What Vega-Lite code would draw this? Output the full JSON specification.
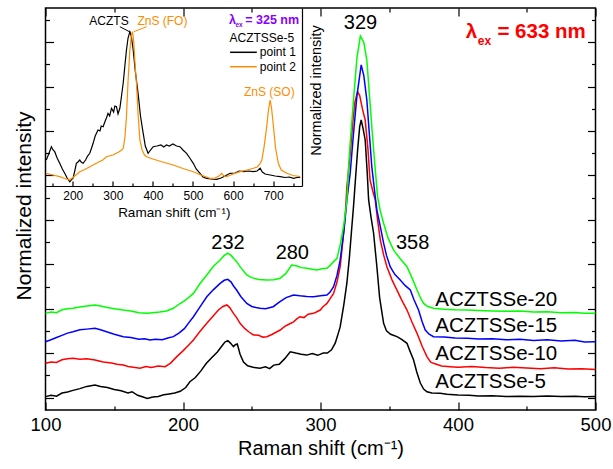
{
"$schema":"https://vega.github.io/schema/vega-lite/v6.json",
"width":550,"height":402,
"autosize":{"type":"none"},
"padding":{"left":45.5,"top":8,"right":17.5,"bottom":59},
"background":"white",
"config":{
 "view":{"stroke":"black","strokeWidth":1.5},
 "axis":{"grid":false,"domain":false,"labelFlush":false,"tickColor":"black","tickWidth":1.2,"labelColor":"black","titleColor":"black","labelFont":"Liberation Sans","titleFont":"Liberation Sans","titleFontWeight":"normal"},
 "text":{"font":"Liberation Sans"}
},
"datasets":{
 "frame":[{"shift":100,"intensity":0}],
 "main":[
{"sample":"ACZTSSe-5","shift":100,"intensity":0.04},{"sample":"ACZTSSe-5","shift":104,"intensity":0.1},{"sample":"ACZTSSe-5","shift":108,"intensity":0.06},{"sample":"ACZTSSe-5","shift":112,"intensity":0.2},{"sample":"ACZTSSe-5","shift":116,"intensity":0.25},{"sample":"ACZTSSe-5","shift":120,"intensity":0.32},{"sample":"ACZTSSe-5","shift":125,"intensity":0.4},{"sample":"ACZTSSe-5","shift":130,"intensity":0.5},{"sample":"ACZTSSe-5","shift":136,"intensity":0.56},{"sample":"ACZTSSe-5","shift":140,"intensity":0.5},{"sample":"ACZTSSe-5","shift":145,"intensity":0.45},{"sample":"ACZTSSe-5","shift":150,"intensity":0.36},{"sample":"ACZTSSe-5","shift":155,"intensity":0.3},{"sample":"ACZTSSe-5","shift":160,"intensity":0.2},{"sample":"ACZTSSe-5","shift":163,"intensity":0.26},{"sample":"ACZTSSe-5","shift":167,"intensity":0.1},{"sample":"ACZTSSe-5","shift":171,"intensity":0.02},{"sample":"ACZTSSe-5","shift":174,"intensity":-0.04},{"sample":"ACZTSSe-5","shift":178,"intensity":0.02},{"sample":"ACZTSSe-5","shift":182,"intensity":0.05},{"sample":"ACZTSSe-5","shift":186,"intensity":0.12},{"sample":"ACZTSSe-5","shift":190,"intensity":0.16},{"sample":"ACZTSSe-5","shift":194,"intensity":0.2},{"sample":"ACZTSSe-5","shift":198,"intensity":0.28},{"sample":"ACZTSSe-5","shift":202,"intensity":0.45},{"sample":"ACZTSSe-5","shift":205,"intensity":0.71},{"sample":"ACZTSSe-5","shift":209,"intensity":0.9},{"sample":"ACZTSSe-5","shift":213,"intensity":1.2},{"sample":"ACZTSSe-5","shift":217,"intensity":1.54},{"sample":"ACZTSSe-5","shift":221,"intensity":1.8},{"sample":"ACZTSSe-5","shift":225,"intensity":2.05},{"sample":"ACZTSSe-5","shift":228,"intensity":2.3},{"sample":"ACZTSSe-5","shift":230.5,"intensity":2.5},{"sample":"ACZTSSe-5","shift":232.6,"intensity":2.56},{"sample":"ACZTSSe-5","shift":234.5,"intensity":2.45},{"sample":"ACZTSSe-5","shift":236.7,"intensity":2.29},{"sample":"ACZTSSe-5","shift":238,"intensity":2.38},{"sample":"ACZTSSe-5","shift":239.5,"intensity":2.41},{"sample":"ACZTSSe-5","shift":241.5,"intensity":1.95},{"sample":"ACZTSSe-5","shift":244,"intensity":1.6},{"sample":"ACZTSSe-5","shift":247,"intensity":1.43},{"sample":"ACZTSSe-5","shift":251,"intensity":1.36},{"sample":"ACZTSSe-5","shift":256,"intensity":1.32},{"sample":"ACZTSSe-5","shift":260,"intensity":1.38},{"sample":"ACZTSSe-5","shift":263,"intensity":1.3},{"sample":"ACZTSSe-5","shift":266,"intensity":1.46},{"sample":"ACZTSSe-5","shift":270,"intensity":1.5},{"sample":"ACZTSSe-5","shift":274,"intensity":1.75},{"sample":"ACZTSSe-5","shift":278,"intensity":2.06},{"sample":"ACZTSSe-5","shift":282,"intensity":2.0},{"sample":"ACZTSSe-5","shift":286,"intensity":1.95},{"sample":"ACZTSSe-5","shift":290,"intensity":1.91},{"sample":"ACZTSSe-5","shift":294,"intensity":1.98},{"sample":"ACZTSSe-5","shift":298,"intensity":1.9},{"sample":"ACZTSSe-5","shift":302,"intensity":2.0},{"sample":"ACZTSSe-5","shift":305,"intensity":2.0},{"sample":"ACZTSSe-5","shift":308,"intensity":2.15},{"sample":"ACZTSSe-5","shift":310.7,"intensity":2.45},{"sample":"ACZTSSe-5","shift":312.5,"intensity":2.8},{"sample":"ACZTSSe-5","shift":314.3,"intensity":3.18},{"sample":"ACZTSSe-5","shift":317,"intensity":4.2},{"sample":"ACZTSSe-5","shift":319.2,"intensity":5.16},{"sample":"ACZTSSe-5","shift":321,"intensity":6.3},{"sample":"ACZTSSe-5","shift":322.8,"intensity":7.69},{"sample":"ACZTSSe-5","shift":324,"intensity":8.6},{"sample":"ACZTSSe-5","shift":325.5,"intensity":9.9},{"sample":"ACZTSSe-5","shift":327,"intensity":11.15},{"sample":"ACZTSSe-5","shift":328.5,"intensity":12.2},{"sample":"ACZTSSe-5","shift":329.6,"intensity":12.5},{"sample":"ACZTSSe-5","shift":331,"intensity":12.1},{"sample":"ACZTSSe-5","shift":332.5,"intensity":11.6},{"sample":"ACZTSSe-5","shift":334,"intensity":10.1},{"sample":"ACZTSSe-5","shift":335,"intensity":8.9},{"sample":"ACZTSSe-5","shift":336.8,"intensity":8.1},{"sample":"ACZTSSe-5","shift":338.6,"intensity":7.41},{"sample":"ACZTSSe-5","shift":341,"intensity":5.89},{"sample":"ACZTSSe-5","shift":343,"intensity":4.5},{"sample":"ACZTSSe-5","shift":345.9,"intensity":3.34},{"sample":"ACZTSSe-5","shift":348,"intensity":3.0},{"sample":"ACZTSSe-5","shift":351,"intensity":2.85},{"sample":"ACZTSSe-5","shift":355.6,"intensity":2.74},{"sample":"ACZTSSe-5","shift":359,"intensity":2.62},{"sample":"ACZTSSe-5","shift":362.9,"intensity":2.44},{"sample":"ACZTSSe-5","shift":365,"intensity":2.1},{"sample":"ACZTSSe-5","shift":367.7,"intensity":1.69},{"sample":"ACZTSSe-5","shift":370,"intensity":1.15},{"sample":"ACZTSSe-5","shift":372.6,"intensity":0.65},{"sample":"ACZTSSe-5","shift":375,"intensity":0.38},{"sample":"ACZTSSe-5","shift":377.4,"intensity":0.26},{"sample":"ACZTSSe-5","shift":381,"intensity":0.2},{"sample":"ACZTSSe-5","shift":387,"intensity":0.19},{"sample":"ACZTSSe-5","shift":392,"intensity":0.15},{"sample":"ACZTSSe-5","shift":400,"intensity":0.11},{"sample":"ACZTSSe-5","shift":408,"intensity":0.1},{"sample":"ACZTSSe-5","shift":415,"intensity":0.07},{"sample":"ACZTSSe-5","shift":425,"intensity":0.08},{"sample":"ACZTSSe-5","shift":435,"intensity":0.04},{"sample":"ACZTSSe-5","shift":445,"intensity":0.06},{"sample":"ACZTSSe-5","shift":455,"intensity":0.04},{"sample":"ACZTSSe-5","shift":465,"intensity":0.07},{"sample":"ACZTSSe-5","shift":475,"intensity":0.04},{"sample":"ACZTSSe-5","shift":485,"intensity":0.06},{"sample":"ACZTSSe-5","shift":492,"intensity":0.03},{"sample":"ACZTSSe-5","shift":500,"intensity":0.04},
{"sample":"ACZTSSe-10","shift":100,"intensity":1.54},{"sample":"ACZTSSe-10","shift":104,"intensity":1.6},{"sample":"ACZTSSe-10","shift":108,"intensity":1.58},{"sample":"ACZTSSe-10","shift":112,"intensity":1.7},{"sample":"ACZTSSe-10","shift":116,"intensity":1.75},{"sample":"ACZTSSe-10","shift":120,"intensity":1.77},{"sample":"ACZTSSe-10","shift":125,"intensity":1.72},{"sample":"ACZTSSe-10","shift":130,"intensity":1.75},{"sample":"ACZTSSe-10","shift":136,"intensity":1.69},{"sample":"ACZTSSe-10","shift":142,"intensity":1.6},{"sample":"ACZTSSe-10","shift":148,"intensity":1.55},{"sample":"ACZTSSe-10","shift":152,"intensity":1.5},{"sample":"ACZTSSe-10","shift":156.6,"intensity":1.46},{"sample":"ACZTSSe-10","shift":160,"intensity":1.4},{"sample":"ACZTSSe-10","shift":164,"intensity":1.36},{"sample":"ACZTSSe-10","shift":168.8,"intensity":1.32},{"sample":"ACZTSSe-10","shift":173,"intensity":1.4},{"sample":"ACZTSSe-10","shift":177,"intensity":1.35},{"sample":"ACZTSSe-10","shift":182,"intensity":1.42},{"sample":"ACZTSSe-10","shift":187,"intensity":1.39},{"sample":"ACZTSSe-10","shift":191,"intensity":1.55},{"sample":"ACZTSSe-10","shift":195.5,"intensity":1.84},{"sample":"ACZTSSe-10","shift":200,"intensity":2.1},{"sample":"ACZTSSe-10","shift":204,"intensity":2.35},{"sample":"ACZTSSe-10","shift":207.6,"intensity":2.59},{"sample":"ACZTSSe-10","shift":212,"intensity":2.95},{"sample":"ACZTSSe-10","shift":217.3,"intensity":3.34},{"sample":"ACZTSSe-10","shift":221,"intensity":3.6},{"sample":"ACZTSSe-10","shift":225.8,"intensity":3.94},{"sample":"ACZTSSe-10","shift":229,"intensity":4.1},{"sample":"ACZTSSe-10","shift":231.9,"intensity":4.17},{"sample":"ACZTSSe-10","shift":234,"intensity":4.05},{"sample":"ACZTSSe-10","shift":236.7,"intensity":3.79},{"sample":"ACZTSSe-10","shift":239,"intensity":3.6},{"sample":"ACZTSSe-10","shift":241.5,"intensity":3.34},{"sample":"ACZTSSe-10","shift":245,"intensity":3.1},{"sample":"ACZTSSe-10","shift":248,"intensity":2.95},{"sample":"ACZTSSe-10","shift":251.2,"intensity":2.82},{"sample":"ACZTSSe-10","shift":255,"intensity":2.8},{"sample":"ACZTSSe-10","shift":258,"intensity":2.72},{"sample":"ACZTSSe-10","shift":261,"intensity":2.74},{"sample":"ACZTSSe-10","shift":265,"intensity":2.85},{"sample":"ACZTSSe-10","shift":268,"intensity":2.95},{"sample":"ACZTSSe-10","shift":270.7,"intensity":3.04},{"sample":"ACZTSSe-10","shift":274,"intensity":3.2},{"sample":"ACZTSSe-10","shift":277,"intensity":3.3},{"sample":"ACZTSSe-10","shift":280.4,"intensity":3.41},{"sample":"ACZTSSe-10","shift":283,"intensity":3.55},{"sample":"ACZTSSe-10","shift":285,"intensity":3.64},{"sample":"ACZTSSe-10","shift":288,"intensity":3.6},{"sample":"ACZTSSe-10","shift":291,"intensity":3.75},{"sample":"ACZTSSe-10","shift":294.9,"intensity":3.79},{"sample":"ACZTSSe-10","shift":297,"intensity":3.85},{"sample":"ACZTSSe-10","shift":299.8,"intensity":3.94},{"sample":"ACZTSSe-10","shift":302,"intensity":4.1},{"sample":"ACZTSSe-10","shift":304.7,"intensity":4.24},{"sample":"ACZTSSe-10","shift":307,"intensity":4.45},{"sample":"ACZTSSe-10","shift":309.5,"intensity":4.69},{"sample":"ACZTSSe-10","shift":312,"intensity":5.2},{"sample":"ACZTSSe-10","shift":314.3,"intensity":5.89},{"sample":"ACZTSSe-10","shift":316,"intensity":6.9},{"sample":"ACZTSSe-10","shift":318,"intensity":8.14},{"sample":"ACZTSSe-10","shift":319.2,"intensity":9.5},{"sample":"ACZTSSe-10","shift":320.5,"intensity":10.3},{"sample":"ACZTSSe-10","shift":321.6,"intensity":11.0},{"sample":"ACZTSSe-10","shift":323.5,"intensity":12.4},{"sample":"ACZTSSe-10","shift":325,"intensity":13.3},{"sample":"ACZTSSe-10","shift":327,"intensity":13.77},{"sample":"ACZTSSe-10","shift":328.5,"intensity":13.6},{"sample":"ACZTSSe-10","shift":330.5,"intensity":13.0},{"sample":"ACZTSSe-10","shift":332.5,"intensity":12.5},{"sample":"ACZTSSe-10","shift":334.5,"intensity":11.2},{"sample":"ACZTSSe-10","shift":336,"intensity":9.8},{"sample":"ACZTSSe-10","shift":338,"intensity":9.3},{"sample":"ACZTSSe-10","shift":339.8,"intensity":8.9},{"sample":"ACZTSSe-10","shift":341.5,"intensity":8.0},{"sample":"ACZTSSe-10","shift":343.5,"intensity":7.09},{"sample":"ACZTSSe-10","shift":346,"intensity":6.4},{"sample":"ACZTSSe-10","shift":348.3,"intensity":5.89},{"sample":"ACZTSSe-10","shift":352,"intensity":5.3},{"sample":"ACZTSSe-10","shift":355.6,"intensity":4.84},{"sample":"ACZTSSe-10","shift":359,"intensity":4.4},{"sample":"ACZTSSe-10","shift":362.9,"intensity":3.94},{"sample":"ACZTSSe-10","shift":366.5,"intensity":3.4},{"sample":"ACZTSSe-10","shift":370.2,"intensity":2.89},{"sample":"ACZTSSe-10","shift":374,"intensity":2.3},{"sample":"ACZTSSe-10","shift":377.4,"intensity":1.84},{"sample":"ACZTSSe-10","shift":380,"intensity":1.6},{"sample":"ACZTSSe-10","shift":382.2,"intensity":1.54},{"sample":"ACZTSSe-10","shift":388,"intensity":1.42},{"sample":"ACZTSSe-10","shift":394.4,"intensity":1.39},{"sample":"ACZTSSe-10","shift":400,"intensity":1.36},{"sample":"ACZTSSe-10","shift":410,"intensity":1.4},{"sample":"ACZTSSe-10","shift":420,"intensity":1.35},{"sample":"ACZTSSe-10","shift":430,"intensity":1.32},{"sample":"ACZTSSe-10","shift":440,"intensity":1.36},{"sample":"ACZTSSe-10","shift":450,"intensity":1.33},{"sample":"ACZTSSe-10","shift":460,"intensity":1.3},{"sample":"ACZTSSe-10","shift":470,"intensity":1.34},{"sample":"ACZTSSe-10","shift":480,"intensity":1.28},{"sample":"ACZTSSe-10","shift":490,"intensity":1.3},{"sample":"ACZTSSe-10","shift":500,"intensity":1.26},
{"sample":"ACZTSSe-15","shift":100,"intensity":2.51},{"sample":"ACZTSSe-15","shift":104,"intensity":2.6},{"sample":"ACZTSSe-15","shift":108,"intensity":2.7},{"sample":"ACZTSSe-15","shift":112,"intensity":2.8},{"sample":"ACZTSSe-15","shift":116,"intensity":2.9},{"sample":"ACZTSSe-15","shift":120,"intensity":2.96},{"sample":"ACZTSSe-15","shift":125,"intensity":3.05},{"sample":"ACZTSSe-15","shift":130,"intensity":3.08},{"sample":"ACZTSSe-15","shift":136,"intensity":3.12},{"sample":"ACZTSSe-15","shift":140,"intensity":3.05},{"sample":"ACZTSSe-15","shift":145,"intensity":2.95},{"sample":"ACZTSSe-15","shift":150,"intensity":2.85},{"sample":"ACZTSSe-15","shift":156.6,"intensity":2.74},{"sample":"ACZTSSe-15","shift":162,"intensity":2.7},{"sample":"ACZTSSe-15","shift":168,"intensity":2.62},{"sample":"ACZTSSe-15","shift":172,"intensity":2.65},{"sample":"ACZTSSe-15","shift":176,"intensity":2.59},{"sample":"ACZTSSe-15","shift":180,"intensity":2.62},{"sample":"ACZTSSe-15","shift":185,"intensity":2.6},{"sample":"ACZTSSe-15","shift":189,"intensity":2.68},{"sample":"ACZTSSe-15","shift":193,"intensity":2.74},{"sample":"ACZTSSe-15","shift":197,"intensity":2.9},{"sample":"ACZTSSe-15","shift":201,"intensity":3.1},{"sample":"ACZTSSe-15","shift":204,"intensity":3.35},{"sample":"ACZTSSe-15","shift":207.6,"intensity":3.64},{"sample":"ACZTSSe-15","shift":212,"intensity":4.05},{"sample":"ACZTSSe-15","shift":217.3,"intensity":4.54},{"sample":"ACZTSSe-15","shift":222,"intensity":4.85},{"sample":"ACZTSSe-15","shift":227,"intensity":5.14},{"sample":"ACZTSSe-15","shift":230,"intensity":5.28},{"sample":"ACZTSSe-15","shift":232.6,"intensity":5.32},{"sample":"ACZTSSe-15","shift":235,"intensity":5.2},{"sample":"ACZTSSe-15","shift":237,"intensity":5.0},{"sample":"ACZTSSe-15","shift":239,"intensity":4.84},{"sample":"ACZTSSe-15","shift":242,"intensity":4.55},{"sample":"ACZTSSe-15","shift":246.4,"intensity":4.24},{"sample":"ACZTSSe-15","shift":250,"intensity":4.1},{"sample":"ACZTSSe-15","shift":253,"intensity":4.05},{"sample":"ACZTSSe-15","shift":256,"intensity":4.02},{"sample":"ACZTSSe-15","shift":260,"intensity":4.0},{"sample":"ACZTSSe-15","shift":265.6,"intensity":4.09},{"sample":"ACZTSSe-15","shift":270,"intensity":4.3},{"sample":"ACZTSSe-15","shift":275,"intensity":4.5},{"sample":"ACZTSSe-15","shift":280.4,"intensity":4.62},{"sample":"ACZTSSe-15","shift":285,"intensity":4.58},{"sample":"ACZTSSe-15","shift":290,"intensity":4.55},{"sample":"ACZTSSe-15","shift":294.9,"intensity":4.54},{"sample":"ACZTSSe-15","shift":300,"intensity":4.58},{"sample":"ACZTSSe-15","shift":304.7,"intensity":4.62},{"sample":"ACZTSSe-15","shift":307,"intensity":4.75},{"sample":"ACZTSSe-15","shift":309.5,"intensity":4.99},{"sample":"ACZTSSe-15","shift":312,"intensity":5.5},{"sample":"ACZTSSe-15","shift":314.3,"intensity":6.19},{"sample":"ACZTSSe-15","shift":317,"intensity":7.5},{"sample":"ACZTSSe-15","shift":319.2,"intensity":8.9},{"sample":"ACZTSSe-15","shift":321.6,"intensity":10.1},{"sample":"ACZTSSe-15","shift":324,"intensity":11.9},{"sample":"ACZTSSe-15","shift":326.5,"intensity":13.6},{"sample":"ACZTSSe-15","shift":329.6,"intensity":14.98},{"sample":"ACZTSSe-15","shift":331.5,"intensity":14.5},{"sample":"ACZTSSe-15","shift":333.7,"intensity":13.4},{"sample":"ACZTSSe-15","shift":335.5,"intensity":11.9},{"sample":"ACZTSSe-15","shift":337.3,"intensity":10.4},{"sample":"ACZTSSe-15","shift":339.8,"intensity":9.05},{"sample":"ACZTSSe-15","shift":341,"intensity":8.45},{"sample":"ACZTSSe-15","shift":343.5,"intensity":7.7},{"sample":"ACZTSSe-15","shift":345.9,"intensity":6.95},{"sample":"ACZTSSe-15","shift":348,"intensity":6.4},{"sample":"ACZTSSe-15","shift":350.7,"intensity":5.89},{"sample":"ACZTSSe-15","shift":354,"intensity":5.55},{"sample":"ACZTSSe-15","shift":358,"intensity":5.29},{"sample":"ACZTSSe-15","shift":361.5,"intensity":5.05},{"sample":"ACZTSSe-15","shift":365.3,"intensity":4.84},{"sample":"ACZTSSe-15","shift":368,"intensity":4.4},{"sample":"ACZTSSe-15","shift":371.3,"intensity":3.94},{"sample":"ACZTSSe-15","shift":374,"intensity":3.4},{"sample":"ACZTSSe-15","shift":376.2,"intensity":3.04},{"sample":"ACZTSSe-15","shift":379,"intensity":2.85},{"sample":"ACZTSSe-15","shift":382.2,"intensity":2.74},{"sample":"ACZTSSe-15","shift":390,"intensity":2.72},{"sample":"ACZTSSe-15","shift":398,"intensity":2.68},{"sample":"ACZTSSe-15","shift":406.6,"intensity":2.67},{"sample":"ACZTSSe-15","shift":415,"intensity":2.63},{"sample":"ACZTSSe-15","shift":425,"intensity":2.65},{"sample":"ACZTSSe-15","shift":435,"intensity":2.6},{"sample":"ACZTSSe-15","shift":445,"intensity":2.62},{"sample":"ACZTSSe-15","shift":455,"intensity":2.57},{"sample":"ACZTSSe-15","shift":465,"intensity":2.6},{"sample":"ACZTSSe-15","shift":475,"intensity":2.55},{"sample":"ACZTSSe-15","shift":485,"intensity":2.58},{"sample":"ACZTSSe-15","shift":492,"intensity":2.5},{"sample":"ACZTSSe-15","shift":500,"intensity":2.51},
{"sample":"ACZTSSe-20","shift":100,"intensity":3.79},{"sample":"ACZTSSe-20","shift":104,"intensity":3.85},{"sample":"ACZTSSe-20","shift":108,"intensity":3.82},{"sample":"ACZTSSe-20","shift":112,"intensity":3.95},{"sample":"ACZTSSe-20","shift":116,"intensity":4.0},{"sample":"ACZTSSe-20","shift":120,"intensity":4.02},{"sample":"ACZTSSe-20","shift":125,"intensity":4.08},{"sample":"ACZTSSe-20","shift":130,"intensity":4.12},{"sample":"ACZTSSe-20","shift":136,"intensity":4.17},{"sample":"ACZTSSe-20","shift":140,"intensity":4.12},{"sample":"ACZTSSe-20","shift":145,"intensity":4.05},{"sample":"ACZTSSe-20","shift":150,"intensity":4.0},{"sample":"ACZTSSe-20","shift":156.6,"intensity":3.94},{"sample":"ACZTSSe-20","shift":162,"intensity":3.9},{"sample":"ACZTSSe-20","shift":168,"intensity":3.82},{"sample":"ACZTSSe-20","shift":173.6,"intensity":3.79},{"sample":"ACZTSSe-20","shift":178,"intensity":3.82},{"sample":"ACZTSSe-20","shift":183,"intensity":3.85},{"sample":"ACZTSSe-20","shift":188,"intensity":3.9},{"sample":"ACZTSSe-20","shift":193,"intensity":4.02},{"sample":"ACZTSSe-20","shift":197,"intensity":4.2},{"sample":"ACZTSSe-20","shift":201,"intensity":4.35},{"sample":"ACZTSSe-20","shift":204,"intensity":4.5},{"sample":"ACZTSSe-20","shift":207.6,"intensity":4.69},{"sample":"ACZTSSe-20","shift":212,"intensity":5.1},{"sample":"ACZTSSe-20","shift":217.3,"intensity":5.52},{"sample":"ACZTSSe-20","shift":222,"intensity":5.9},{"sample":"ACZTSSe-20","shift":227,"intensity":6.19},{"sample":"ACZTSSe-20","shift":230,"intensity":6.4},{"sample":"ACZTSSe-20","shift":232.6,"intensity":6.5},{"sample":"ACZTSSe-20","shift":235,"intensity":6.4},{"sample":"ACZTSSe-20","shift":237,"intensity":6.25},{"sample":"ACZTSSe-20","shift":239,"intensity":6.12},{"sample":"ACZTSSe-20","shift":242,"intensity":5.85},{"sample":"ACZTSSe-20","shift":246.4,"intensity":5.52},{"sample":"ACZTSSe-20","shift":250,"intensity":5.4},{"sample":"ACZTSSe-20","shift":255,"intensity":5.32},{"sample":"ACZTSSe-20","shift":261,"intensity":5.29},{"sample":"ACZTSSe-20","shift":266,"intensity":5.3},{"sample":"ACZTSSe-20","shift":270.7,"intensity":5.37},{"sample":"ACZTSSe-20","shift":275,"intensity":5.6},{"sample":"ACZTSSe-20","shift":279,"intensity":5.97},{"sample":"ACZTSSe-20","shift":283,"intensity":5.92},{"sample":"ACZTSSe-20","shift":286,"intensity":5.85},{"sample":"ACZTSSe-20","shift":290,"intensity":5.82},{"sample":"ACZTSSe-20","shift":294,"intensity":5.78},{"sample":"ACZTSSe-20","shift":297.4,"intensity":5.74},{"sample":"ACZTSSe-20","shift":301,"intensity":5.8},{"sample":"ACZTSSe-20","shift":304.7,"intensity":5.82},{"sample":"ACZTSSe-20","shift":307,"intensity":5.95},{"sample":"ACZTSSe-20","shift":309.5,"intensity":6.12},{"sample":"ACZTSSe-20","shift":312,"intensity":6.27},{"sample":"ACZTSSe-20","shift":314.3,"intensity":6.87},{"sample":"ACZTSSe-20","shift":317,"intensity":7.8},{"sample":"ACZTSSe-20","shift":319.2,"intensity":8.9},{"sample":"ACZTSSe-20","shift":320.4,"intensity":10.4},{"sample":"ACZTSSe-20","shift":322,"intensity":11.8},{"sample":"ACZTSSe-20","shift":324,"intensity":13.4},{"sample":"ACZTSSe-20","shift":326.5,"intensity":15.3},{"sample":"ACZTSSe-20","shift":329,"intensity":16.28},{"sample":"ACZTSSe-20","shift":331.5,"intensity":16.0},{"sample":"ACZTSSe-20","shift":333.7,"intensity":15.2},{"sample":"ACZTSSe-20","shift":335.5,"intensity":13.7},{"sample":"ACZTSSe-20","shift":337.3,"intensity":12.2},{"sample":"ACZTSSe-20","shift":339.5,"intensity":10.5},{"sample":"ACZTSSe-20","shift":341.5,"intensity":9.05},{"sample":"ACZTSSe-20","shift":343.5,"intensity":8.4},{"sample":"ACZTSSe-20","shift":345.9,"intensity":7.85},{"sample":"ACZTSSe-20","shift":349,"intensity":7.2},{"sample":"ACZTSSe-20","shift":353.2,"intensity":6.64},{"sample":"ACZTSSe-20","shift":358,"intensity":6.25},{"sample":"ACZTSSe-20","shift":362.9,"intensity":5.89},{"sample":"ACZTSSe-20","shift":366.5,"intensity":5.4},{"sample":"ACZTSSe-20","shift":370.2,"intensity":4.84},{"sample":"ACZTSSe-20","shift":373,"intensity":4.45},{"sample":"ACZTSSe-20","shift":375,"intensity":4.24},{"sample":"ACZTSSe-20","shift":378,"intensity":4.1},{"sample":"ACZTSSe-20","shift":382.2,"intensity":4.02},{"sample":"ACZTSSe-20","shift":390,"intensity":3.98},{"sample":"ACZTSSe-20","shift":398,"intensity":3.95},{"sample":"ACZTSSe-20","shift":406.6,"intensity":3.94},{"sample":"ACZTSSe-20","shift":415,"intensity":3.92},{"sample":"ACZTSSe-20","shift":425,"intensity":3.9},{"sample":"ACZTSSe-20","shift":435,"intensity":3.88},{"sample":"ACZTSSe-20","shift":445,"intensity":3.9},{"sample":"ACZTSSe-20","shift":455,"intensity":3.85},{"sample":"ACZTSSe-20","shift":465,"intensity":3.86},{"sample":"ACZTSSe-20","shift":475,"intensity":3.82},{"sample":"ACZTSSe-20","shift":485,"intensity":3.83},{"sample":"ACZTSSe-20","shift":492,"intensity":3.8},{"sample":"ACZTSSe-20","shift":500,"intensity":3.79}
 ],
 "inset":[
{"series":"point 1","shift":134,"intensity":26},{"series":"point 1","shift":140,"intensity":32},{"series":"point 1","shift":146.7,"intensity":39.3},{"series":"point 1","shift":151,"intensity":36},{"series":"point 1","shift":155,"intensity":34.3},{"series":"point 1","shift":161,"intensity":28},{"series":"point 1","shift":167.5,"intensity":22.7},{"series":"point 1","shift":174,"intensity":17},{"series":"point 1","shift":180,"intensity":12.7},{"series":"point 1","shift":186,"intensity":8},{"series":"point 1","shift":192.5,"intensity":4.3},{"series":"point 1","shift":196,"intensity":6},{"series":"point 1","shift":200.8,"intensity":7.7},{"series":"point 1","shift":205,"intensity":15},{"series":"point 1","shift":209,"intensity":22.7},{"series":"point 1","shift":213,"intensity":24},{"series":"point 1","shift":217.5,"intensity":26},{"series":"point 1","shift":221,"intensity":24},{"series":"point 1","shift":225.8,"intensity":22.7},{"series":"point 1","shift":232,"intensity":26},{"series":"point 1","shift":237,"intensity":30},{"series":"point 1","shift":242.5,"intensity":32.7},{"series":"point 1","shift":247,"intensity":38},{"series":"point 1","shift":250.8,"intensity":42.7},{"series":"point 1","shift":256,"intensity":50},{"series":"point 1","shift":263,"intensity":56},{"series":"point 1","shift":268,"intensity":55},{"series":"point 1","shift":271,"intensity":60},{"series":"point 1","shift":275.8,"intensity":59.3},{"series":"point 1","shift":280,"intensity":64},{"series":"point 1","shift":284,"intensity":68},{"series":"point 1","shift":288,"intensity":72.7},{"series":"point 1","shift":292,"intensity":70},{"series":"point 1","shift":296.7,"intensity":77.7},{"series":"point 1","shift":302,"intensity":74},{"series":"point 1","shift":305,"intensity":80},{"series":"point 1","shift":309,"intensity":79.3},{"series":"point 1","shift":313,"intensity":72},{"series":"point 1","shift":317.5,"intensity":77.7},{"series":"point 1","shift":321,"intensity":88},{"series":"point 1","shift":325.8,"intensity":102.7},{"series":"point 1","shift":330,"intensity":120},{"series":"point 1","shift":334,"intensity":136},{"series":"point 1","shift":338,"intensity":148},{"series":"point 1","shift":342.5,"intensity":154.3},{"series":"point 1","shift":346,"intensity":150},{"series":"point 1","shift":350.8,"intensity":136},{"series":"point 1","shift":356,"intensity":115},{"series":"point 1","shift":363,"intensity":92.7},{"series":"point 1","shift":369,"intensity":70},{"series":"point 1","shift":375.8,"intensity":52.7},{"series":"point 1","shift":381,"intensity":40},{"series":"point 1","shift":388,"intensity":32.7},{"series":"point 1","shift":394,"intensity":36},{"series":"point 1","shift":400.8,"intensity":39.3},{"series":"point 1","shift":410,"intensity":40},{"series":"point 1","shift":420,"intensity":41},{"series":"point 1","shift":427,"intensity":39},{"series":"point 1","shift":434,"intensity":41},{"series":"point 1","shift":441,"intensity":40},{"series":"point 1","shift":450,"intensity":42},{"series":"point 1","shift":459,"intensity":40},{"series":"point 1","shift":467.5,"intensity":39.3},{"series":"point 1","shift":475,"intensity":36},{"series":"point 1","shift":484,"intensity":32.7},{"series":"point 1","shift":492,"intensity":28},{"series":"point 1","shift":500.8,"intensity":22.7},{"series":"point 1","shift":508,"intensity":17},{"series":"point 1","shift":517.5,"intensity":12.7},{"series":"point 1","shift":525,"intensity":9},{"series":"point 1","shift":534,"intensity":7.7},{"series":"point 1","shift":545,"intensity":7},{"series":"point 1","shift":559,"intensity":6.7},{"series":"point 1","shift":570,"intensity":8},{"series":"point 1","shift":580,"intensity":10},{"series":"point 1","shift":592.5,"intensity":12.7},{"series":"point 1","shift":605,"intensity":13},{"series":"point 1","shift":615,"intensity":15},{"series":"point 1","shift":625.8,"intensity":14.3},{"series":"point 1","shift":638,"intensity":15},{"series":"point 1","shift":650.8,"intensity":14.3},{"series":"point 1","shift":660,"intensity":15},{"series":"point 1","shift":667.5,"intensity":17.7},{"series":"point 1","shift":673,"intensity":14},{"series":"point 1","shift":680,"intensity":12},{"series":"point 1","shift":692.5,"intensity":11},{"series":"point 1","shift":705,"intensity":10},{"series":"point 1","shift":717.5,"intensity":9.3},{"series":"point 1","shift":730,"intensity":8.5},{"series":"point 1","shift":740,"intensity":9},{"series":"point 1","shift":750.8,"intensity":7.7},{"series":"point 1","shift":760,"intensity":8.5},{"series":"point 1","shift":767.5,"intensity":8.7},
{"series":"point 2","shift":134,"intensity":12.7},{"series":"point 2","shift":150,"intensity":11},{"series":"point 2","shift":167.5,"intensity":9.3},{"series":"point 2","shift":180,"intensity":7.5},{"series":"point 2","shift":192.5,"intensity":6},{"series":"point 2","shift":205,"intensity":10},{"series":"point 2","shift":217.5,"intensity":14.3},{"series":"point 2","shift":230,"intensity":16.5},{"series":"point 2","shift":242.5,"intensity":19.3},{"series":"point 2","shift":260,"intensity":23},{"series":"point 2","shift":275,"intensity":26},{"series":"point 2","shift":284,"intensity":29.3},{"series":"point 2","shift":300,"intensity":31},{"series":"point 2","shift":315,"intensity":34},{"series":"point 2","shift":322,"intensity":36},{"series":"point 2","shift":325.8,"intensity":37.7},{"series":"point 2","shift":330,"intensity":48},{"series":"point 2","shift":334,"intensity":69.3},{"series":"point 2","shift":338,"intensity":105},{"series":"point 2","shift":342.5,"intensity":136},{"series":"point 2","shift":346,"intensity":150},{"series":"point 2","shift":349,"intensity":154.3},{"series":"point 2","shift":352,"intensity":145},{"series":"point 2","shift":355,"intensity":125},{"series":"point 2","shift":359,"intensity":102.7},{"series":"point 2","shift":363,"intensity":72},{"series":"point 2","shift":367.5,"intensity":46},{"series":"point 2","shift":373,"intensity":36},{"series":"point 2","shift":379,"intensity":31},{"series":"point 2","shift":384,"intensity":29.3},{"series":"point 2","shift":400,"intensity":27},{"series":"point 2","shift":420,"intensity":24.5},{"series":"point 2","shift":450.8,"intensity":21},{"series":"point 2","shift":475,"intensity":17.5},{"series":"point 2","shift":500.8,"intensity":14.3},{"series":"point 2","shift":520,"intensity":11},{"series":"point 2","shift":542.5,"intensity":7.7},{"series":"point 2","shift":555,"intensity":8},{"series":"point 2","shift":565,"intensity":10},{"series":"point 2","shift":571.7,"intensity":12.7},{"series":"point 2","shift":577,"intensity":10},{"series":"point 2","shift":584,"intensity":9.3},{"series":"point 2","shift":600,"intensity":12},{"series":"point 2","shift":617.5,"intensity":14.3},{"series":"point 2","shift":635,"intensity":16},{"series":"point 2","shift":650.8,"intensity":17.7},{"series":"point 2","shift":660,"intensity":19},{"series":"point 2","shift":667,"intensity":22},{"series":"point 2","shift":671.7,"intensity":26},{"series":"point 2","shift":677,"intensity":38},{"series":"point 2","shift":684,"intensity":59.3},{"series":"point 2","shift":688,"intensity":75},{"series":"point 2","shift":692.5,"intensity":86},{"series":"point 2","shift":696,"intensity":78},{"series":"point 2","shift":700.8,"intensity":59.3},{"series":"point 2","shift":706,"intensity":38},{"series":"point 2","shift":713,"intensity":22.7},{"series":"point 2","shift":720,"intensity":16},{"series":"point 2","shift":734,"intensity":12.7},{"series":"point 2","shift":750,"intensity":10.5},{"series":"point 2","shift":767.5,"intensity":9.3}
 ],
 "peaks":[{"label":"329","shift":329.1,"intensity":16.85},{"label":"232","shift":232.7,"intensity":6.98},{"label":"280","shift":279.5,"intensity":6.5},{"label":"358","shift":367,"intensity":6.96}],
 "samples":[{"label":"ACZTSSe-20","shift":383.5,"intensity":4.41},{"label":"ACZTSSe-15","shift":383.5,"intensity":3.21},{"label":"ACZTSSe-10","shift":383.5,"intensity":1.94},{"label":"ACZTSSe-5","shift":383.5,"intensity":0.68}],
 "exMain":[{"label":"λ","shift":409.8,"intensity":16.48},{"label":"= 633 nm","shift":460.8,"intensity":16.48}],
 "exMainSub":[{"label":"ex","shift":419.3,"intensity":16.06}],
 "insetLabels":[{"label":"ACZTS","series":"point 1","shift":290.5,"intensity":165.2},{"label":"ZnS (FO)","series":"point 2","shift":423.75,"intensity":165.2},{"label":"ACZTSSe-5","series":"point 1","shift":671.75,"intensity":147.7},{"label":"ZnS (SO)","series":"point 2","shift":690.5,"intensity":94}],
 "insetLegend":[{"series":"point 1","x1":592.5,"x2":659.25,"intensity":133.7},{"series":"point 2","x1":592.5,"x2":659.25,"intensity":119.3}],
 "arrows":[{"series":"point 1","x1":317.5,"x2":344.25,"y1":159.3,"y2":153.7},{"series":"point 2","x1":384.25,"x2":352.5,"y1":159.3,"y2":154.3}],
 "exInset":[{"label":"λ","shift":598.5,"intensity":166},{"label":"= 325 nm","shift":697.5,"intensity":166}],
 "exInsetSub":[{"label":"ex","shift":615,"intensity":161.5}]
},
"layer":[
 {"data":{"name":"main"},"mark":{"type":"line","strokeWidth":1.5},
  "encoding":{
   "x":{"field":"shift","type":"quantitative","scale":{"domain":[100,500],"nice":false,"zero":false},"axis":{"orient":"bottom","values":[100,200,300,400,500],"tickSize":-8,"labelPadding":13.4,"labelFontSize":18.5,"title":"Raman shift (cm⁻¹)","titleFontSize":20,"titleY":44,"titleBaseline":"alphabetic"}},
   "y":{"field":"intensity","type":"quantitative","scale":{"domain":[-0.563,17.545],"nice":false,"zero":false},"axis":{"orient":"left","values":[0,2,4,6,8,10,12,14,16],"tickSize":-8,"labels":false,"title":"Normalized intensity","titleFontSize":21,"titleAngle":270,"titleX":-15.5,"titleY":197.5,"titleBaseline":"alphabetic","titleAlign":"center"}},
   "color":{"field":"sample","type":"nominal","scale":{"domain":["ACZTSSe-5","ACZTSSe-10","ACZTSSe-15","ACZTSSe-20"],"range":["#000000","#ff0000","#0000ff","#00ff00"]},"legend":null}}},
 {"data":{"name":"frame"},"mark":{"type":"point","opacity":0},
  "encoding":{
   "x":{"field":"shift","type":"quantitative","scale":{"domain":[100,500],"nice":false,"zero":false},"axis":{"orient":"bottom","values":[150,250,350,450],"tickSize":-4,"labels":false,"title":null}},
   "y":{"field":"intensity","type":"quantitative","scale":{"domain":[-0.563,17.545],"nice":false,"zero":false},"axis":{"orient":"left","values":[1,3,5,7,9,11,13,15,17],"tickSize":-4,"labels":false,"title":null}}}},
 {"data":{"name":"frame"},"mark":{"type":"point","opacity":0},
  "encoding":{
   "x":{"field":"shift","type":"quantitative","scale":{"domain":[100,500],"nice":false,"zero":false},"axis":{"orient":"top","values":[100,200,300,400,500],"tickSize":-8,"labels":false,"title":null}},
   "y":{"field":"intensity","type":"quantitative","scale":{"domain":[-0.563,17.545],"nice":false,"zero":false},"axis":{"orient":"right","values":[0,2,4,6,8,10,12,14,16],"tickSize":-8,"labels":false,"title":null}}}},
 {"data":{"name":"frame"},"mark":{"type":"point","opacity":0},
  "encoding":{
   "x":{"field":"shift","type":"quantitative","scale":{"domain":[100,500],"nice":false,"zero":false},"axis":{"orient":"top","values":[150,250,350,450],"tickSize":-4,"labels":false,"title":null}},
   "y":{"field":"intensity","type":"quantitative","scale":{"domain":[-0.563,17.545],"nice":false,"zero":false},"axis":{"orient":"right","values":[1,3,5,7,9,11,13,15,17],"tickSize":-4,"labels":false,"title":null}}}},
 {"data":{"name":"peaks"},"mark":{"type":"text","fontSize":20,"color":"black","align":"center","baseline":"middle"},
  "encoding":{
   "x":{"field":"shift","type":"quantitative","scale":{"domain":[100,500],"nice":false,"zero":false},"axis":null},
   "y":{"field":"intensity","type":"quantitative","scale":{"domain":[-0.563,17.545],"nice":false,"zero":false},"axis":null},
   "text":{"field":"label"}}},
 {"data":{"name":"samples"},"mark":{"type":"text","fontSize":20.5,"color":"black","align":"left","baseline":"middle"},
  "encoding":{
   "x":{"field":"shift","type":"quantitative","scale":{"domain":[100,500],"nice":false,"zero":false},"axis":null},
   "y":{"field":"intensity","type":"quantitative","scale":{"domain":[-0.563,17.545],"nice":false,"zero":false},"axis":null},
   "text":{"field":"label"}}},
 {"data":{"name":"exMain"},"mark":{"type":"text","fontSize":20.5,"fontWeight":"bold","color":"#ff0000","align":"center","baseline":"middle"},
  "encoding":{
   "x":{"field":"shift","type":"quantitative","scale":{"domain":[100,500],"nice":false,"zero":false},"axis":null},
   "y":{"field":"intensity","type":"quantitative","scale":{"domain":[-0.563,17.545],"nice":false,"zero":false},"axis":null},
   "text":{"field":"label"}}},
 {"data":{"name":"exMainSub"},"mark":{"type":"text","fontSize":12,"fontWeight":"bold","color":"#ff0000","align":"center","baseline":"middle"},
  "encoding":{
   "x":{"field":"shift","type":"quantitative","scale":{"domain":[100,500],"nice":false,"zero":false},"axis":null},
   "y":{"field":"intensity","type":"quantitative","scale":{"domain":[-0.563,17.545],"nice":false,"zero":false},"axis":null},
   "text":{"field":"label"}}},
 {"data":{"name":"inset"},"mark":{"type":"line","strokeWidth":1.2},
  "encoding":{
   "x":{"field":"shift","type":"quantitative","scale":{"domain":[132,772],"range":[0,256.5],"nice":false,"zero":false},"axis":{"orient":"bottom","offset":-224,"domain":true,"domainColor":"black","domainWidth":1.2,"values":[200,300,400,500,600,700],"tickSize":-5,"labelPadding":9.9,"labelFontSize":12,"title":"Raman shift (cm⁻¹)","titleFontSize":13.5,"titleY":30.5,"titleBaseline":"alphabetic"}},
   "y":{"field":"intensity","type":"quantitative","scale":{"domain":[0,178],"range":[178,0],"nice":false,"zero":false},"axis":{"orient":"right","offset":-293.5,"domain":true,"domainColor":"black","domainWidth":1.2,"ticks":false,"labels":false,"title":"Normalized intensity","titleFontSize":14.5,"titleAngle":270,"titleX":18.3,"titleY":82,"titleBaseline":"alphabetic","titleAlign":"center"}},
   "color":{"field":"series","type":"nominal","scale":{"domain":["point 1","point 2"],"range":["#000000","#ff8c00"]},"legend":null}}},
 {"data":{"name":"frame"},"mark":{"type":"point","opacity":0},
  "encoding":{
   "x":{"field":"shift","type":"quantitative","scale":{"domain":[132,772],"range":[0,256.5],"nice":false,"zero":false},"axis":{"orient":"bottom","offset":-224,"values":[150,250,350,450,550,650,750],"tickSize":-3,"labels":false,"title":null}},
   "y":{"field":"intensity","type":"quantitative","scale":{"domain":[0,178],"range":[178,0],"nice":false,"zero":false},"axis":null}}},
 {"data":{"name":"insetLabels"},"mark":{"type":"text","fontSize":12,"align":"center","baseline":"middle"},
  "encoding":{
   "x":{"field":"shift","type":"quantitative","scale":{"domain":[132,772],"range":[0,256.5],"nice":false,"zero":false},"axis":null},
   "y":{"field":"intensity","type":"quantitative","scale":{"domain":[0,178],"range":[178,0],"nice":false,"zero":false},"axis":null},
   "color":{"field":"series","type":"nominal","scale":{"domain":["point 1","point 2"],"range":["#000000","#ff8c00"]},"legend":null},
   "text":{"field":"label"}}},
 {"data":{"name":"insetLegend"},"mark":{"type":"rule","strokeWidth":1.5},
  "encoding":{
   "x":{"field":"x1","type":"quantitative","scale":{"domain":[132,772],"range":[0,256.5],"nice":false,"zero":false},"axis":null},
   "x2":{"field":"x2"},
   "y":{"field":"intensity","type":"quantitative","scale":{"domain":[0,178],"range":[178,0],"nice":false,"zero":false},"axis":null},
   "color":{"field":"series","type":"nominal","scale":{"domain":["point 1","point 2"],"range":["#000000","#ff8c00"]},"legend":null}}},
 {"data":{"name":"insetLegend"},"mark":{"type":"text","fontSize":12,"align":"left","baseline":"middle","dx":3,"color":"black"},
  "encoding":{
   "x":{"field":"x2","type":"quantitative","scale":{"domain":[132,772],"range":[0,256.5],"nice":false,"zero":false},"axis":null},
   "y":{"field":"intensity","type":"quantitative","scale":{"domain":[0,178],"range":[178,0],"nice":false,"zero":false},"axis":null},
   "text":{"field":"series"}}},
 {"data":{"name":"arrows"},"mark":{"type":"rule","strokeWidth":1},
  "encoding":{
   "x":{"field":"x1","type":"quantitative","scale":{"domain":[132,772],"range":[0,256.5],"nice":false,"zero":false},"axis":null},
   "x2":{"field":"x2"},
   "y":{"field":"y1","type":"quantitative","scale":{"domain":[0,178],"range":[178,0],"nice":false,"zero":false},"axis":null},
   "y2":{"field":"y2"},
   "color":{"field":"series","type":"nominal","scale":{"domain":["point 1","point 2"],"range":["#000000","#ff8c00"]},"legend":null}}},
 {"data":{"name":"exInset"},"mark":{"type":"text","fontSize":12.5,"fontWeight":"bold","color":"#8800ff","align":"center","baseline":"middle"},
  "encoding":{
   "x":{"field":"shift","type":"quantitative","scale":{"domain":[132,772],"range":[0,256.5],"nice":false,"zero":false},"axis":null},
   "y":{"field":"intensity","type":"quantitative","scale":{"domain":[0,178],"range":[178,0],"nice":false,"zero":false},"axis":null},
   "text":{"field":"label"}}},
 {"data":{"name":"exInsetSub"},"mark":{"type":"text","fontSize":6.5,"fontWeight":"bold","color":"#8800ff","align":"center","baseline":"middle"},
  "encoding":{
   "x":{"field":"shift","type":"quantitative","scale":{"domain":[132,772],"range":[0,256.5],"nice":false,"zero":false},"axis":null},
   "y":{"field":"intensity","type":"quantitative","scale":{"domain":[0,178],"range":[178,0],"nice":false,"zero":false},"axis":null},
   "text":{"field":"label"}}}
],
"resolve":{"scale":{"x":"independent","y":"independent","color":"independent"}}
}
